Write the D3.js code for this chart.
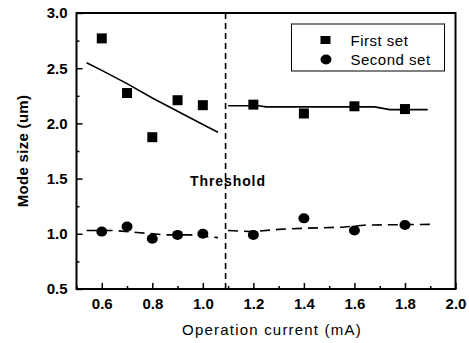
<!DOCTYPE html>
<html>
<head>
<meta charset="utf-8">
<script src="https://cdn.jsdelivr.net/npm/d3@7/dist/d3.min.js"></script>
<style>
  body { margin: 0; background: #fff; }
  svg { display: block; font-family: "Liberation Sans", Arial, sans-serif; }
</style>
</head>
<body>
<svg id="chart" width="469" height="343"></svg>
<script>
// Data
const firstX = [0.6, 0.7, 0.8, 0.9, 1.0, 1.2, 1.4, 1.6, 1.8];
const firstY = [2.77, 2.275, 1.875, 2.21, 2.165, 2.17, 2.09, 2.155, 2.13];
const secondX = [0.6, 0.7, 0.8, 0.9, 1.0, 1.2, 1.4, 1.6, 1.8];
const secondY = [1.02, 1.065, 0.955, 0.99, 1.0, 0.99, 1.14, 1.03, 1.08];

// fitted trend lines (left / right of threshold)
const fitFirstLeft = [[0.54, 2.55], [0.6, 2.48], [0.7, 2.36], [0.8, 2.23], [0.9, 2.11], [1.0, 1.99], [1.06, 1.92]];
const fitFirstRight = [[1.1, 2.16], [1.22, 2.16], [1.25, 2.15], [1.68, 2.15], [1.74, 2.125], [1.89, 2.125]];
const fitSecondLeft = [[0.54, 1.03], [0.65, 1.03], [0.75, 1.01], [0.85, 0.99], [0.95, 0.99], [1.06, 0.965]];
const fitSecondRight = [[1.1, 1.03], [1.2, 1.02], [1.3, 1.04], [1.4, 1.05], [1.55, 1.06], [1.65, 1.08], [1.9, 1.085]];

const thresholdX = 1.09;
const xTicks = [0.6, 0.8, 1.0, 1.2, 1.4, 1.6, 1.8, 2.0];
const xMinor = [0.5, 0.7, 0.9, 1.1, 1.3, 1.5, 1.7, 1.9];
const yTicks = [0.5, 1.0, 1.5, 2.0, 2.5, 3.0];
const yMinor = [0.75, 1.25, 1.75, 2.25, 2.75];
const legendLabels = ['First set', 'Second set'];

const margin = { top: 13, right: 13.5, bottom: 54, left: 76.5 };
const width = 469, height = 343;
const w = width - margin.left - margin.right;
const h = height - margin.top - margin.bottom;

const svg = d3.select('#chart');
const g = svg.append('g').attr('transform', `translate(${margin.left},${margin.top})`);

const x = d3.scaleLinear().domain([0.5, 2.0]).range([0, w]);
const y = d3.scaleLinear().domain([0.5, 3.0]).range([h, 0]);

// Axes with inward ticks
g.append('g')
  .attr('transform', `translate(0,${h})`)
  .call(d3.axisBottom(x).tickValues(xTicks).tickSize(-6).tickPadding(9).tickFormat(d3.format('.1f')));
g.append('g')
  .attr('transform', `translate(0,${h})`)
  .call(d3.axisBottom(x).tickValues(xMinor).tickSize(-3).tickFormat(''));

g.append('g')
  .call(d3.axisLeft(y).tickValues(yTicks).tickSize(-6).tickPadding(9).tickFormat(d3.format('.1f')));
g.append('g')
  .call(d3.axisLeft(y).tickValues(yMinor).tickSize(-3).tickFormat(''));

g.selectAll('.tick line').attr('stroke', '#000').attr('stroke-width', 1.5);
g.selectAll('.domain').remove();
g.selectAll('.tick text')
  .attr('fill', '#000')
  .style('font-size', '15px')
  .style('font-weight', 'bold');

// Frame
g.append('rect')
  .attr('x', 0).attr('y', 0)
  .attr('width', w).attr('height', h)
  .attr('fill', 'none')
  .attr('stroke', '#000')
  .attr('stroke-width', 2);

// Threshold line
g.append('line')
  .attr('x1', x(thresholdX)).attr('x2', x(thresholdX))
  .attr('y1', 0).attr('y2', h)
  .attr('stroke', '#000')
  .attr('stroke-width', 1.6)
  .attr('stroke-dasharray', '6,4');

g.append('text')
  .attr('x', x(thresholdX) - 35.5)
  .attr('y', y(1.43))
  .style('font-size', '14px')
  .style('font-weight', 'bold')
  .style('letter-spacing', '0.9px')
  .text('Threshold');

// Fit lines
const line = d3.line().x(d => x(d[0])).y(d => y(d[1]));
[fitFirstLeft, fitFirstRight].forEach(pts => {
  g.append('path').attr('d', line(pts))
    .attr('fill', 'none').attr('stroke', '#000').attr('stroke-width', 1.6);
});
[fitSecondLeft, fitSecondRight].forEach(pts => {
  g.append('path').attr('d', line(pts))
    .attr('fill', 'none').attr('stroke', '#000').attr('stroke-width', 1.6)
    .attr('stroke-dasharray', '10,6');
});

// Markers
const sq = 10;
g.selectAll('rect.first')
  .data(firstX.map((v, i) => [v, firstY[i]]))
  .enter().append('rect')
  .attr('class', 'first')
  .attr('x', d => x(d[0]) - sq / 2)
  .attr('y', d => y(d[1]) - sq / 2)
  .attr('width', sq).attr('height', sq)
  .attr('fill', '#000');

g.selectAll('ellipse.second')
  .data(secondX.map((v, i) => [v, secondY[i]]))
  .enter().append('ellipse')
  .attr('class', 'second')
  .attr('cx', d => x(d[0]))
  .attr('cy', d => y(d[1]))
  .attr('rx', 5.5).attr('ry', 5)
  .attr('fill', '#000');

// Legend
const legend = g.append('g').attr('transform', `translate(${291.5 - margin.left},${24 - margin.top})`);
legend.append('rect')
  .attr('width', 153).attr('height', 47)
  .attr('fill', '#fff').attr('stroke', '#000').attr('stroke-width', 1);
legend.append('rect')
  .attr('x', 29).attr('y', 12).attr('width', 10).attr('height', 8).attr('fill', '#000');
legend.append('ellipse')
  .attr('cx', 34.5).attr('cy', 35.5).attr('rx', 5.5).attr('ry', 5).attr('fill', '#000');
legend.selectAll('text.lg')
  .data(legendLabels)
  .enter().append('text')
  .attr('class', 'lg')
  .attr('x', 59)
  .attr('y', (d, i) => 21.5 + i * 19.5)
  .style('font-size', '15px')
  .style('letter-spacing', '0.5px')
  .text(d => d);

// Axis titles
svg.append('text')
  .attr('x', margin.left + w / 2 + 6)
  .attr('y', 335)
  .attr('text-anchor', 'middle')
  .style('font-size', '15px')
  .style('letter-spacing', '1.2px')
  .text('Operation current (mA)');

svg.append('text')
  .attr('transform', `translate(28,${margin.top + 138}) rotate(-90)`)
  .attr('text-anchor', 'middle')
  .style('font-size', '15px')
  .style('font-weight', 'bold')
  .style('letter-spacing', '0.3px')
  .text('Mode size (um)');
</script>
</body>
</html>
